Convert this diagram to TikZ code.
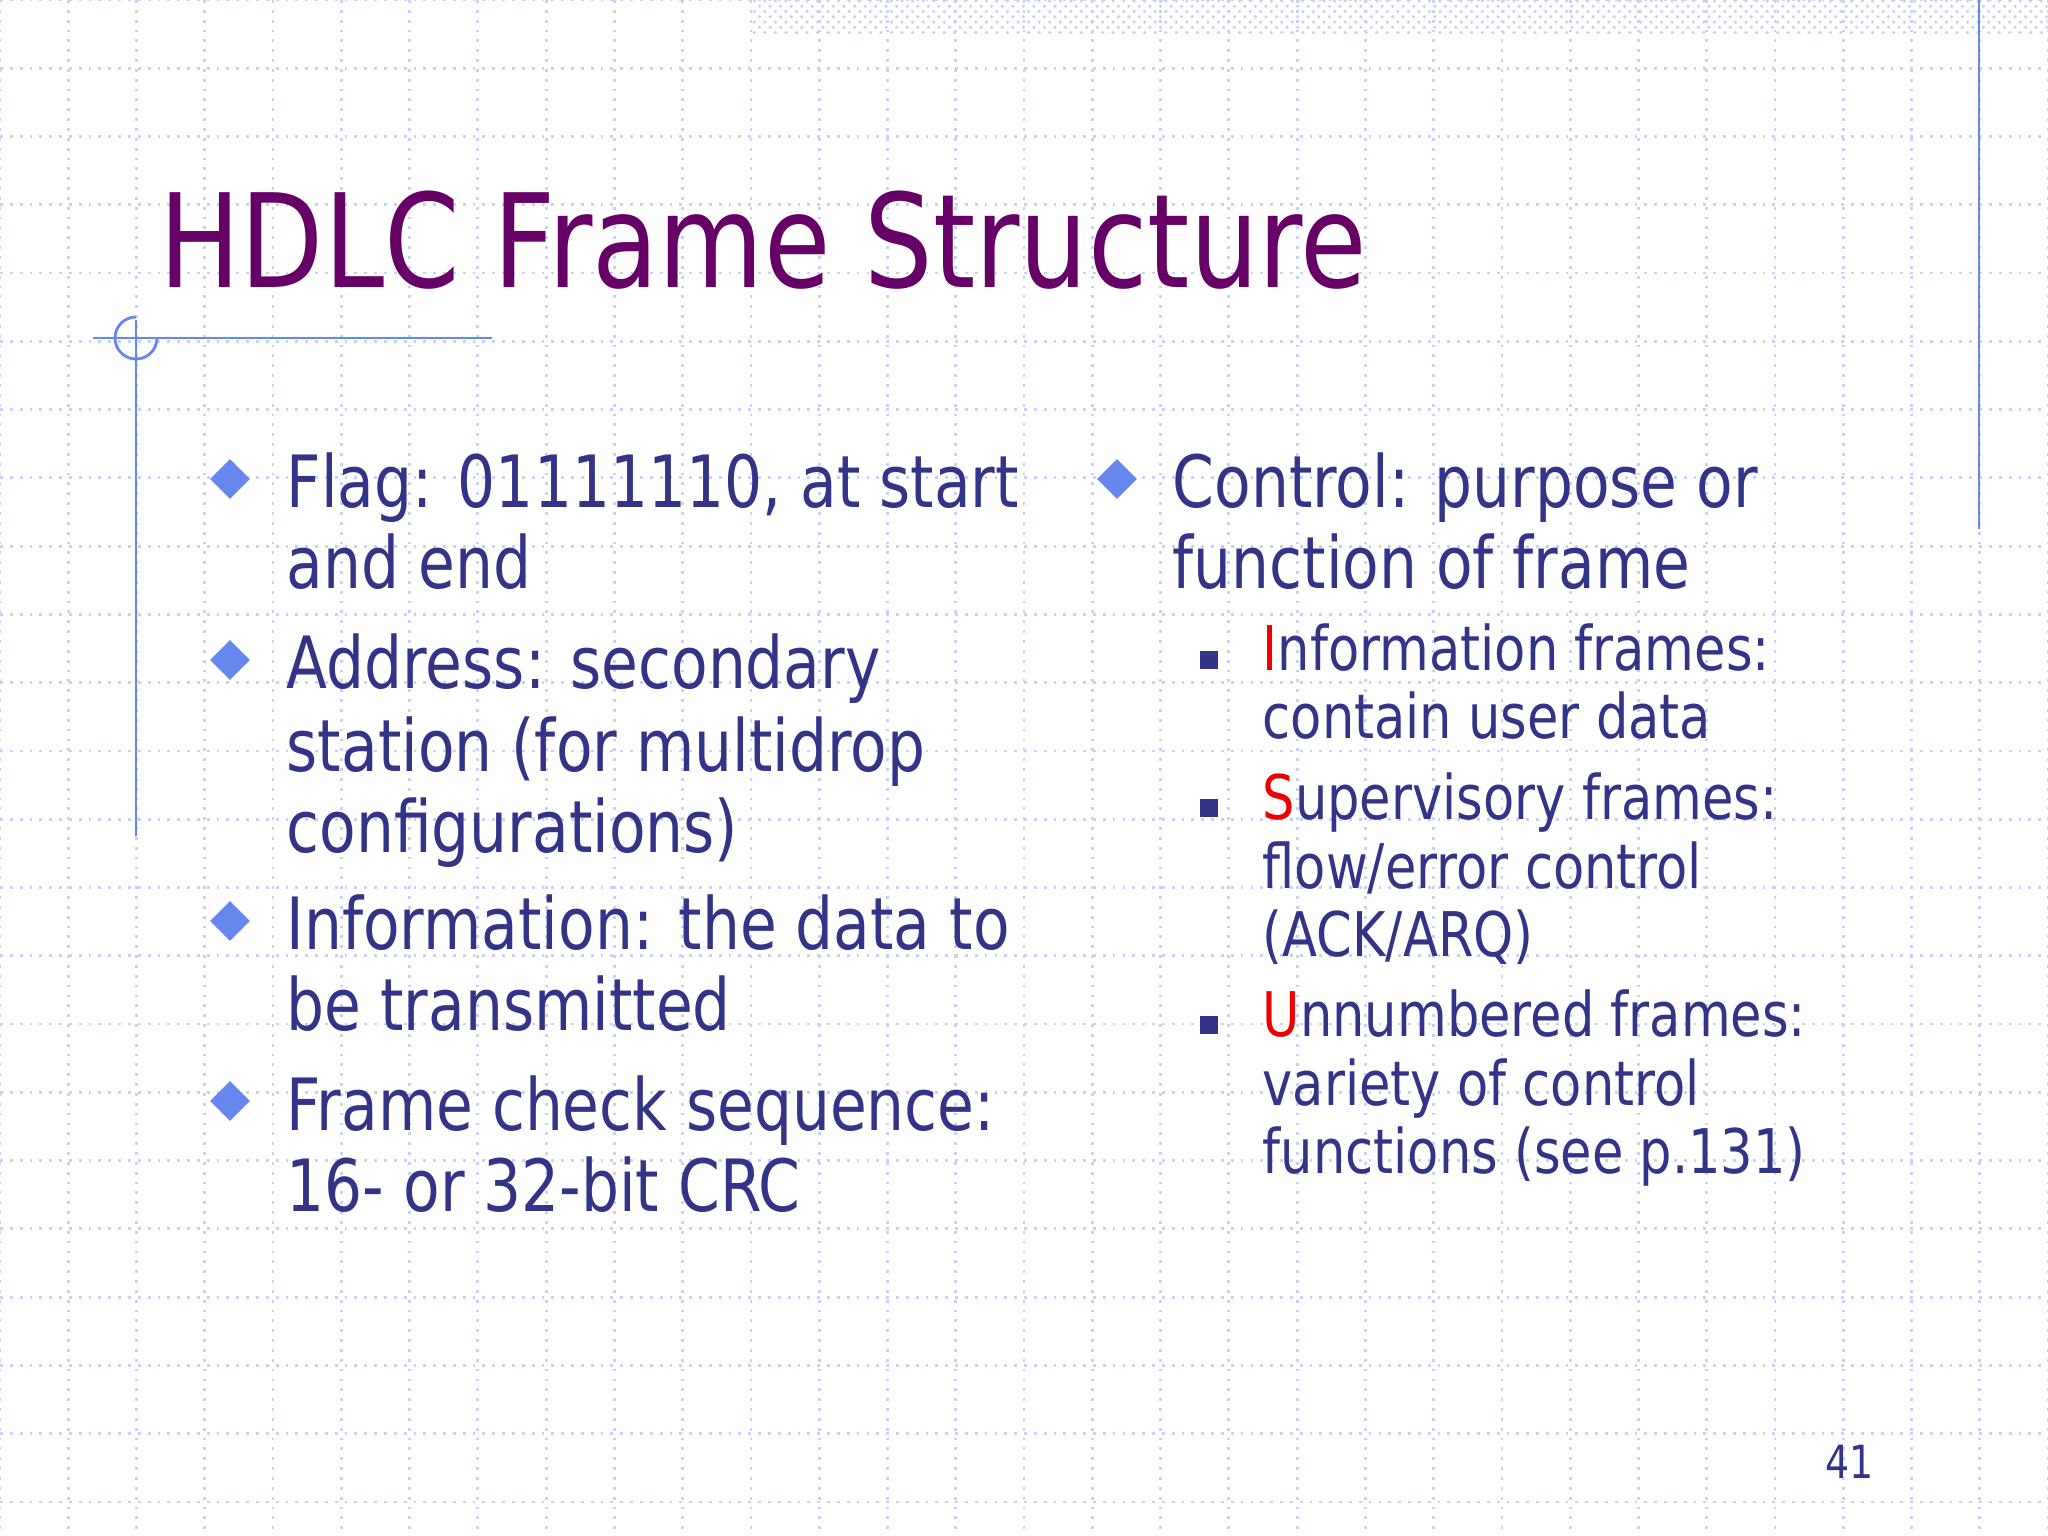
\documentclass[tikz,border=0pt]{standalone}
\usepackage{fontspec}
\setmainfont{DejaVu Sans}[FakeStretch=0.83]
\usetikzlibrary{patterns}
\definecolor{txt}{HTML}{333388}
\definecolor{ttl}{HTML}{660066}
\definecolor{bul}{HTML}{6688EE}
\definecolor{grd}{HTML}{C8D0F4}
\definecolor{acc}{HTML}{EE0000}
\tikzset{
 big/.style={anchor=base west,text=txt,font=\fontsize{20.5}{24}\selectfont,inner sep=0},
 small/.style={anchor=base west,text=txt,font=\fontsize{17.5}{20}\selectfont,inner sep=0},
 dia/.style={fill=bul,minimum size=0.28cm,rotate=45,inner sep=0,draw=none},
 sq/.style={fill=txt,minimum size=0.18cm,inner sep=0},
 deco/.style={draw=bul,line width=0.8pt}
}
\begin{document}
\begin{tikzpicture}[x=0.01cm,y=-0.01cm]
\useasboundingbox (0,0) rectangle (2048,1536);
\fill[white] (0,0) rectangle (2048,1536);
\foreach \i in {0,...,30} {\draw[grd,dotted,line width=0.8pt] (\i*68.27,0) -- (\i*68.27,1536);}
\foreach \i in {0,...,22} {\draw[grd,dotted,line width=0.8pt] (0,\i*68.27) -- (2048,\i*68.27);}
\fill[pattern=crosshatch dots,pattern color=grd] (751,0) rectangle (2048,33);
\draw[deco] (1979,0) -- (1979,529);
\draw[deco] (93,338) -- (492,338);
\draw[deco] (136,320) -- (136,836);
\draw[deco] (136,338) ++(90:0.21cm) arc[start angle=90,end angle=360,radius=0.21cm];
\node[anchor=base west,inner sep=0,text=ttl,font=\fontsize{37}{42}\selectfont] (title) at (159,287) {HDLC Frame Structure};
% left column
\node[dia] (d1) at (230,479) {};
\node[big] (l1) at (286,507) {Flag: 01111110, at start};
\node[big] (l2) at (286,588) {and end};
\node[dia] (d2) at (230,660) {};
\node[big] (l3) at (286,688) {Address: secondary};
\node[big] (l4) at (286,771) {station (for multidrop};
\node[big] (l5) at (286,852) {configurations)};
\node[dia] (d3) at (230,921) {};
\node[big] (l6) at (286,949) {Information: the data to};
\node[big] (l7) at (286,1030) {be transmitted};
\node[dia] (d4) at (230,1101) {};
\node[big] (l8) at (286,1130) {Frame check sequence:};
\node[big] (l9) at (286,1211) {16- or 32-bit CRC};
% right column
\node[dia] (d5) at (1117,479) {};
\node[big] (r1) at (1172,507) {Control: purpose or};
\node[big] (r2) at (1172,588) {function of frame};
\node[sq] (s1) at (1209,660) {};
\node[small] (r3) at (1262,670) {\textcolor{acc}{I}nformation frames:};
\node[small] (r4) at (1262,738) {contain user data};
\node[sq] (s2) at (1209,808) {};
\node[small] (r5) at (1262,819) {\textcolor{acc}{S}upervisory frames:};
\node[small] (r6) at (1262,888) {flow/error control};
\node[small] (r7) at (1262,956) {(ACK/ARQ)};
\node[sq] (s3) at (1209,1025) {};
\node[small] (r8) at (1262,1036) {\textcolor{acc}{U}nnumbered frames:};
\node[small] (r9) at (1262,1105) {variety of control};
\node[small] (r10) at (1262,1173) {functions (see p.131)};
\node[anchor=base east,inner sep=0,text=txt,font=\fontsize{13}{15}\selectfont] (pg) at (1874,1478) {41};
\end{tikzpicture}
\end{document}
